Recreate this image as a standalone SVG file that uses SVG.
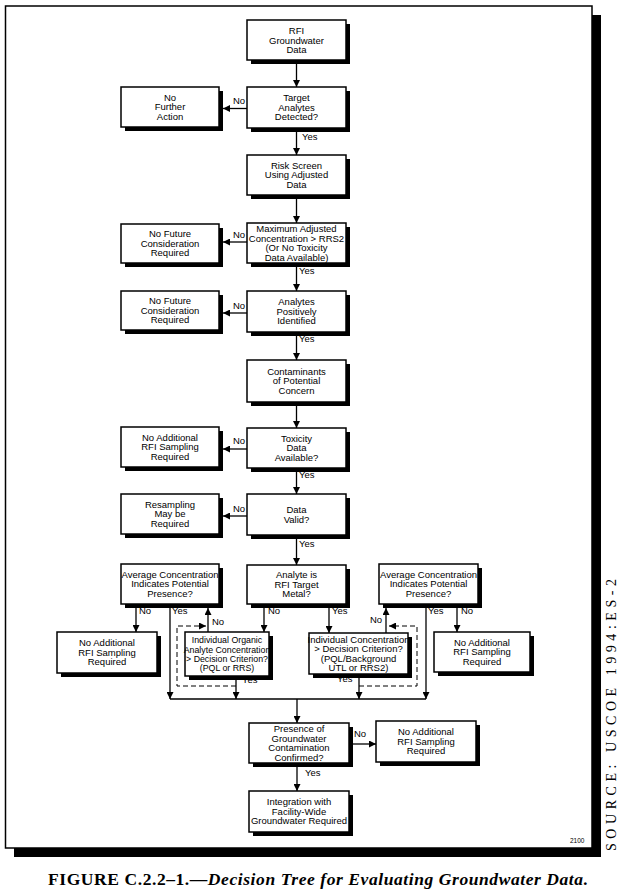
<svg xmlns="http://www.w3.org/2000/svg" width="625" height="892" viewBox="0 0 625 892">
<style>
.sh{fill:#000}
.bx{fill:#fff;stroke:#000;stroke-width:1.5}
.t{font-family:"Liberation Sans",Arial,sans-serif;font-size:9.5px;text-anchor:middle;fill:#000}
.lb{font-family:"Liberation Sans",Arial,sans-serif;font-size:9.5px;fill:#000}
.ln{stroke:#000;stroke-width:1.3;fill:none}
.ds{stroke:#000;stroke-width:1;fill:none;stroke-dasharray:5 3}
</style>
<defs>
<marker id="ah" viewBox="0 0 8 8" refX="8" refY="4" markerWidth="7" markerHeight="7" markerUnits="userSpaceOnUse" orient="auto">
<path d="M0,0 L8,4 L0,8 z" fill="#000"/>
</marker>
</defs>
<rect width="625" height="892" fill="#fff"/>
<g id="frame">
<rect x="14" y="15" width="587" height="842" class="sh"/>
<rect x="5.5" y="6" width="586.5" height="842" class="bx"/>
</g>

<g id="n1"><rect x="251" y="24" width="99" height="40" class="sh"/><rect x="247" y="20" width="99" height="40" class="bx"/>
<text class="t" x="296.5" y="34"><tspan x="296.5">RFI</tspan><tspan x="296.5" dy="9.5">Groundwater</tspan><tspan x="296.5" dy="9.5">Data</tspan></text></g>

<g id="n2"><rect x="251" y="91" width="99" height="41" class="sh"/><rect x="247" y="87" width="99" height="41" class="bx"/>
<text class="t" x="296.5" y="101.4"><tspan x="296.5">Target</tspan><tspan x="296.5" dy="9.5">Analytes</tspan><tspan x="296.5" dy="9.5">Detected?</tspan></text></g>

<g id="n3"><rect x="125" y="91" width="98" height="40" class="sh"/><rect x="121" y="87" width="98" height="40" class="bx"/>
<text class="t" x="170" y="100.9"><tspan x="170">No</tspan><tspan x="170" dy="9.5">Further</tspan><tspan x="170" dy="9.5">Action</tspan></text></g>

<g id="n4"><rect x="251" y="159" width="99" height="40" class="sh"/><rect x="247" y="155" width="99" height="40" class="bx"/>
<text class="t" x="296.5" y="168.9"><tspan x="296.5">Risk Screen</tspan><tspan x="296.5" dy="9.5">Using Adjusted</tspan><tspan x="296.5" dy="9.5">Data</tspan></text></g>

<g id="n5"><rect x="251" y="227" width="99" height="40" class="sh"/><rect x="247" y="223" width="99" height="40" class="bx"/>
<text class="t" x="296.5" y="232.2"><tspan x="296.5">Maximum Adjusted</tspan><tspan x="296.5" dy="9.5">Concentration &gt; RRS2</tspan><tspan x="296.5" dy="9.5">(Or No Toxicity</tspan><tspan x="296.5" dy="9.5">Data Available)</tspan></text></g>

<g id="n6"><rect x="125" y="228" width="98" height="39" class="sh"/><rect x="121" y="224" width="98" height="39" class="bx"/>
<text class="t" x="170" y="237.4"><tspan x="170">No Future</tspan><tspan x="170" dy="9.5">Consideration</tspan><tspan x="170" dy="9.5">Required</tspan></text></g>

<g id="n7"><rect x="251" y="295" width="99" height="41" class="sh"/><rect x="247" y="291" width="99" height="41" class="bx"/>
<text class="t" x="296.5" y="305.4"><tspan x="296.5">Analytes</tspan><tspan x="296.5" dy="9.5">Positively</tspan><tspan x="296.5" dy="9.5">Identified</tspan></text></g>

<g id="n8"><rect x="125" y="295" width="98" height="39" class="sh"/><rect x="121" y="291" width="98" height="39" class="bx"/>
<text class="t" x="170" y="304.4"><tspan x="170">No Future</tspan><tspan x="170" dy="9.5">Consideration</tspan><tspan x="170" dy="9.5">Required</tspan></text></g>

<g id="n9"><rect x="251" y="364" width="99" height="42" class="sh"/><rect x="247" y="360" width="99" height="42" class="bx"/>
<text class="t" x="296.5" y="374.9"><tspan x="296.5">Contaminants</tspan><tspan x="296.5" dy="9.5">of Potential</tspan><tspan x="296.5" dy="9.5">Concern</tspan></text></g>

<g id="n10"><rect x="251" y="432" width="99" height="40" class="sh"/><rect x="247" y="428" width="99" height="40" class="bx"/>
<text class="t" x="296.5" y="441.9"><tspan x="296.5">Toxicity</tspan><tspan x="296.5" dy="9.5">Data</tspan><tspan x="296.5" dy="9.5">Available?</tspan></text></g>

<g id="n11"><rect x="125" y="431" width="98" height="40" class="sh"/><rect x="121" y="427" width="98" height="40" class="bx"/>
<text class="t" x="170" y="440.9"><tspan x="170">No Additional</tspan><tspan x="170" dy="9.5">RFI Sampling</tspan><tspan x="170" dy="9.5">Required</tspan></text></g>

<g id="n12"><rect x="251" y="498" width="99" height="41" class="sh"/><rect x="247" y="494" width="99" height="41" class="bx"/>
<text class="t" x="296.5" y="513.1"><tspan x="296.5">Data</tspan><tspan x="296.5" dy="9.5">Valid?</tspan></text></g>

<g id="n13"><rect x="125" y="498" width="98" height="40" class="sh"/><rect x="121" y="494" width="98" height="40" class="bx"/>
<text class="t" x="170" y="507.9"><tspan x="170">Resampling</tspan><tspan x="170" dy="9.5">May be</tspan><tspan x="170" dy="9.5">Required</tspan></text></g>

<g id="n14"><rect x="125" y="568" width="98" height="40" class="sh"/><rect x="121" y="564" width="98" height="40" class="bx"/>
<text class="t" x="170" y="577.9"><tspan x="170">Average Concentration</tspan><tspan x="170" dy="9.5">Indicates Potential</tspan><tspan x="170" dy="9.5">Presence?</tspan></text></g>

<g id="n15"><rect x="251" y="569" width="99" height="39" class="sh"/><rect x="247" y="565" width="99" height="39" class="bx"/>
<text class="t" x="296.5" y="578.4"><tspan x="296.5">Analyte is</tspan><tspan x="296.5" dy="9.5">RFI Target</tspan><tspan x="296.5" dy="9.5">Metal?</tspan></text></g>

<g id="n16"><rect x="383" y="568" width="99" height="40" class="sh"/><rect x="379" y="564" width="99" height="40" class="bx"/>
<text class="t" x="428.5" y="577.9"><tspan x="428.5">Average Concentration</tspan><tspan x="428.5" dy="9.5">Indicates Potential</tspan><tspan x="428.5" dy="9.5">Presence?</tspan></text></g>

<g id="n17"><rect x="61" y="636" width="100" height="41" class="sh"/><rect x="57" y="632" width="100" height="41" class="bx"/>
<text class="t" x="107" y="646.4"><tspan x="107">No Additional</tspan><tspan x="107" dy="9.5">RFI Sampling</tspan><tspan x="107" dy="9.5">Required</tspan></text></g>

<g id="n18"><rect x="189" y="636" width="84" height="44" class="sh"/><rect x="185" y="632" width="84" height="44" class="bx"/>
<text class="t" x="227" y="643.2" style="font-size:8.8px"><tspan x="227">Individual Organic</tspan><tspan x="227" dy="9.3">Analyte Concentration</tspan><tspan x="227" dy="9.3">&gt; Decision Criterion?</tspan><tspan x="227" dy="9.3">(PQL or RRS)</tspan></text></g>

<g id="n19"><rect x="313" y="637" width="99" height="41" class="sh"/><rect x="309" y="633" width="99" height="41" class="bx"/>
<text class="t" x="358.5" y="642.7"><tspan x="358.5">Individual Concentration</tspan><tspan x="358.5" dy="9.5">&gt; Decision Criterion?</tspan><tspan x="358.5" dy="9.5">(PQL/Background</tspan><tspan x="358.5" dy="9.5">UTL or RRS2)</tspan></text></g>

<g id="n20"><rect x="438" y="636" width="96" height="40" class="sh"/><rect x="434" y="632" width="96" height="40" class="bx"/>
<text class="t" x="482" y="645.9"><tspan x="482">No Additional</tspan><tspan x="482" dy="9.5">RFI Sampling</tspan><tspan x="482" dy="9.5">Required</tspan></text></g>

<g id="n21"><rect x="253" y="727" width="100" height="40" class="sh"/><rect x="249" y="723" width="100" height="40" class="bx"/>
<text class="t" x="299" y="732.2"><tspan x="299">Presence of</tspan><tspan x="299" dy="9.5">Groundwater</tspan><tspan x="299" dy="9.5">Contamination</tspan><tspan x="299" dy="9.5">Confirmed?</tspan></text></g>

<g id="n22"><rect x="380" y="725" width="100" height="41" class="sh"/><rect x="376" y="721" width="100" height="41" class="bx"/>
<text class="t" x="426" y="735.4"><tspan x="426">No Additional</tspan><tspan x="426" dy="9.5">RFI Sampling</tspan><tspan x="426" dy="9.5">Required</tspan></text></g>

<g id="n23"><rect x="253" y="795" width="100" height="41" class="sh"/><rect x="249" y="791" width="100" height="41" class="bx"/>
<text class="t" x="299" y="805.4"><tspan x="299">Integration with</tspan><tspan x="299" dy="9.5">Facility-Wide</tspan><tspan x="299" dy="9.5">Groundwater Required</tspan></text></g>

<g id="connectors">
<path class="ln" d="M296.5,64 V87" marker-end="url(#ah)"/>
<path class="ln" d="M247,108.5 H223" marker-end="url(#ah)"/>
<path class="ln" d="M296.5,132 V155" marker-end="url(#ah)"/>
<path class="ln" d="M296.5,199 V223" marker-end="url(#ah)"/>
<path class="ln" d="M247,242 H223" marker-end="url(#ah)"/>
<path class="ln" d="M296.5,267 V291" marker-end="url(#ah)"/>
<path class="ln" d="M247,313 H223" marker-end="url(#ah)"/>
<path class="ln" d="M296.5,336 V360" marker-end="url(#ah)"/>
<path class="ln" d="M296.5,406 V428" marker-end="url(#ah)"/>
<path class="ln" d="M247,449 H223" marker-end="url(#ah)"/>
<path class="ln" d="M296.5,472 V494" marker-end="url(#ah)"/>
<path class="ln" d="M247,516 H223" marker-end="url(#ah)"/>
<path class="ln" d="M296.5,539 V565" marker-end="url(#ah)"/>
<path class="ln" d="M136,608 V632" marker-end="url(#ah)"/>
<path class="ln" d="M170,608 V699" marker-end="url(#ah)"/>
<path class="ln" d="M208,632 V608" marker-end="url(#ah)"/>
<path class="ds" d="M236,686 H177 V626 H206" marker-end="url(#ah)"/>
<path class="ln" d="M264,608 V632" marker-end="url(#ah)"/>
<path class="ln" d="M329,608 V633" marker-end="url(#ah)"/>
<path class="ln" d="M236,680 V699" marker-end="url(#ah)"/>
<path class="ln" d="M386,633 V608" marker-end="url(#ah)"/>
<path class="ds" d="M359,686 H417 V626 H389" marker-end="url(#ah)"/>
<path class="ln" d="M359,678 V699" marker-end="url(#ah)"/>
<path class="ln" d="M426,608 V699" marker-end="url(#ah)"/>
<path class="ln" d="M457,608 V632" marker-end="url(#ah)"/>
<path class="ln" d="M170,699 H426"/>
<path class="ln" d="M297,699 V723" marker-end="url(#ah)"/>
<path class="ln" d="M353,744 H376" marker-end="url(#ah)"/>
<path class="ln" d="M297,767 V791" marker-end="url(#ah)"/>
</g>

<g id="labels">
<text class="lb" x="233" y="104">No</text>
<text class="lb" x="302" y="140">Yes</text>
<text class="lb" x="233" y="238">No</text>
<text class="lb" x="299" y="274">Yes</text>
<text class="lb" x="233" y="309">No</text>
<text class="lb" x="299" y="342">Yes</text>
<text class="lb" x="233" y="444">No</text>
<text class="lb" x="299" y="478">Yes</text>
<text class="lb" x="233" y="512">No</text>
<text class="lb" x="299" y="547">Yes</text>
<text class="lb" x="139" y="614">No</text>
<text class="lb" x="172" y="614">Yes</text>
<text class="lb" x="212" y="625">No</text>
<text class="lb" x="268" y="614">No</text>
<text class="lb" x="242" y="683">Yes</text>
<text class="lb" x="332" y="614">Yes</text>
<text class="lb" x="370" y="623">No</text>
<text class="lb" x="337" y="682">Yes</text>
<text class="lb" x="428" y="614">Yes</text>
<text class="lb" x="461" y="614">No</text>
<text class="lb" x="354" y="737">No</text>
<text class="lb" x="305" y="776">Yes</text>
</g>

<text x="570" y="843" style="font-family:'Liberation Sans',Arial,sans-serif;font-size:6.5px">2100</text>
<text transform="translate(616,851) rotate(-90)" textLength="272" lengthAdjust="spacing" style="font-family:'Liberation Serif','Times New Roman',serif;font-size:14px">SOURCE:  USCOE 1994:ES-2</text>
<text x="48" y="885" textLength="540" lengthAdjust="spacing" style="font-family:'Liberation Serif','Times New Roman',serif;font-size:17.5px;font-weight:bold">FIGURE C.2.2–1.—<tspan font-style="italic">Decision Tree for Evaluating Groundwater Data.</tspan></text>
</svg>
